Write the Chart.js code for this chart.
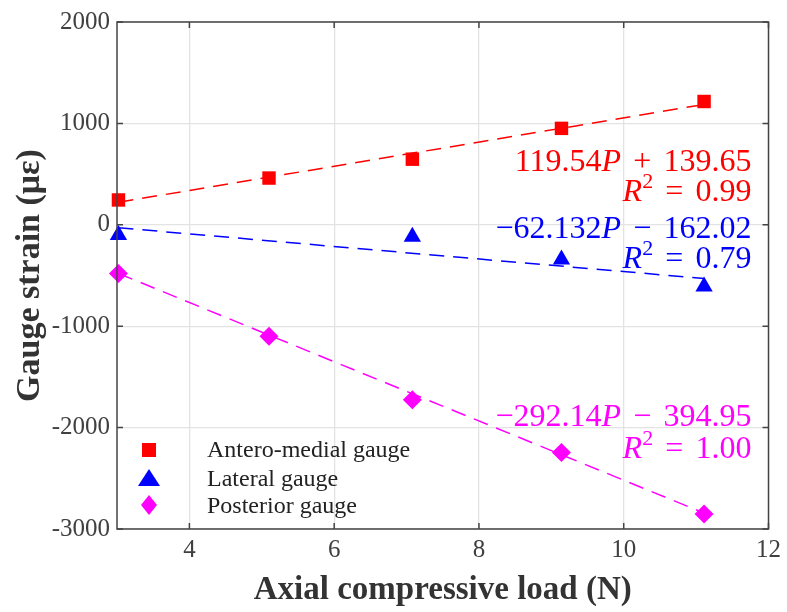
<!DOCTYPE html>
<html>
<head>
<meta charset="utf-8">
<script src="https://cdn.jsdelivr.net/npm/chart.js"></script>
<style>
  html, body { margin: 0; padding: 0; background: #fff; }
  #wrap { width: 787px; height: 612px; }
</style>
</head>
<body>
<div id="wrap"><canvas id="chart" width="787" height="612"></canvas></div>
<script>
// load values (N) and measured strain
var loads = [3.02, 5.1, 7.08, 9.14, 11.11];
var anteroMedial = [245, 461, 647, 951, 1216];
var lateral = [-100, -118, -343, -608];
var lateralLoads = [3.02, 7.08, 9.14, 11.11];
var posterior = [-480, -1098, -1725, -2245, -2853];

// fitted lines, end points
var fitLoads = [3.02, 11.11];
var anteroFit = [222, 1187];
var lateralFit = [-29, -530];
var posteriorFit = [-480, -2843];

var xTicks = [4, 6, 8, 10, 12];
var yTicks = [-3000, -2000, -1000, 0, 1000, 2000];

var RED = '#ff0000', BLUE = '#0000ff', MAG = '#ff00ff';
var SERIF = '"Liberation Serif", "Times New Roman", serif';

function pts(xs, ys) {
  return xs.map(function (x, i) { return { x: x, y: ys[i] }; });
}

// box + inward ticks like matlab
var framePlugin = {
  id: 'frame',
  afterDraw: function (chart) {
    var ctx = chart.ctx, a = chart.chartArea;
    var xs = chart.scales.x, ys = chart.scales.y;
    ctx.save();
    ctx.strokeStyle = '#444';
    ctx.lineWidth = 1.5;
    ctx.strokeRect(a.left, a.top, a.right - a.left, a.bottom - a.top);
    ctx.beginPath();
    xTicks.forEach(function (v) {
      var px = xs.getPixelForValue(v);
      ctx.moveTo(px, a.bottom); ctx.lineTo(px, a.bottom - 6);
      ctx.moveTo(px, a.top); ctx.lineTo(px, a.top + 6);
    });
    yTicks.forEach(function (v) {
      var py = ys.getPixelForValue(v);
      ctx.moveTo(a.left, py); ctx.lineTo(a.left + 6, py);
      ctx.moveTo(a.right, py); ctx.lineTo(a.right - 6, py);
    });
    ctx.stroke();
    ctx.restore();
  }
};

// draws a line made of [text, style] pieces, right aligned; 'gap' = space in em
function richRight(ctx, parts, xRight, y, size, color) {
  function fontOf(p) {
    if (p[1] === 'i') return 'italic ' + size + 'px ' + SERIF;
    if (p[1] === 'sup') return Math.round(size * 0.68) + 'px ' + SERIF;
    return size + 'px ' + SERIF;
  }
  function widthOf(p) {
    if (p[1] === 'gap') return p[0] * size;
    ctx.font = fontOf(p);
    return ctx.measureText(p[0]).width;
  }
  var total = 0;
  parts.forEach(function (p) { total += widthOf(p); });
  var x = xRight - total;
  ctx.fillStyle = color;
  ctx.textAlign = 'left';
  ctx.textBaseline = 'alphabetic';
  parts.forEach(function (p) {
    var w = widthOf(p);
    if (p[1] !== 'gap') {
      ctx.font = fontOf(p);
      var dy = p[1] === 'sup' ? -size * 0.4 : 0;
      ctx.fillText(p[0], x, y + dy);
    }
    x += w;
  });
}

var notePlugin = {
  id: 'notes',
  afterDraw: function (chart) {
    var ctx = chart.ctx;
    var xr = chart.chartArea.right - 17;
    var fs = 32, g = 0.38;
    ctx.save();
    richRight(ctx, [['119.54', ''], ['P', 'i'], [g, 'gap'], ['+', ''], [g, 'gap'], ['139.65', '']], xr, 171, fs, RED);
    richRight(ctx, [['R', 'i'], ['2', 'sup'], [g, 'gap'], ['=', ''], [g, 'gap'], ['0.99', '']], xr, 201, fs, RED);
    richRight(ctx, [['\u221262.132', ''], ['P', 'i'], [g, 'gap'], ['\u2212', ''], [g, 'gap'], ['162.02', '']], xr, 238, fs, BLUE);
    richRight(ctx, [['R', 'i'], ['2', 'sup'], [g, 'gap'], ['=', ''], [g, 'gap'], ['0.79', '']], xr, 268, fs, BLUE);
    richRight(ctx, [['\u2212292.14', ''], ['P', 'i'], [g, 'gap'], ['\u2212', ''], [g, 'gap'], ['394.95', '']], xr, 426, fs, MAG);
    richRight(ctx, [['R', 'i'], ['2', 'sup'], [g, 'gap'], ['=', ''], [g, 'gap'], ['1.00', '']], xr, 458, fs, MAG);
    ctx.restore();
  }
};

var legendPlugin = {
  id: 'inlegend',
  afterDraw: function (chart) {
    var ctx = chart.ctx;
    var items = [
      ['Antero-medial gauge', 'sq', RED, 450, 457],
      ['Lateral gauge', 'tri', BLUE, 478, 486],
      ['Posterior gauge', 'dia', MAG, 505, 513]
    ];
    ctx.save();
    items.forEach(function (it) {
      var cx = 149, cy = it[3];
      ctx.fillStyle = it[2];
      ctx.beginPath();
      if (it[1] === 'sq') {
        ctx.rect(cx - 7, cy - 7, 14, 14);
      } else if (it[1] === 'tri') {
        ctx.moveTo(cx, cy - 9); ctx.lineTo(cx + 11, cy + 8); ctx.lineTo(cx - 11, cy + 8);
      } else {
        ctx.moveTo(cx, cy - 10); ctx.lineTo(cx + 8, cy); ctx.lineTo(cx, cy + 10); ctx.lineTo(cx - 8, cy);
      }
      ctx.closePath();
      ctx.fill();
      ctx.fillStyle = '#222';
      ctx.font = '24px ' + SERIF;
      ctx.textAlign = 'left';
      ctx.textBaseline = 'alphabetic';
      ctx.fillText(it[0], 207, it[4]);
    });
    ctx.restore();
  }
};

var fitStyle = { type: 'line', showLine: true, pointRadius: 0, borderWidth: 1.5, borderDash: [15, 9], fill: false, order: 2 };

var chart = new Chart(document.getElementById('chart'), {
  type: 'scatter',
  data: {
    datasets: [
      Object.assign({ label: 'Antero-medial fit', data: pts(fitLoads, anteroFit), borderColor: RED }, fitStyle),
      Object.assign({ label: 'Lateral fit', data: pts(fitLoads, lateralFit), borderColor: BLUE }, fitStyle),
      Object.assign({ label: 'Posterior fit', data: pts(fitLoads, posteriorFit), borderColor: MAG }, fitStyle),
      { label: 'Antero-medial gauge', data: pts(loads, anteroMedial), pointStyle: 'rect', pointRadius: 9.5,
        backgroundColor: RED, borderColor: RED, borderWidth: 0, order: 1, clip: false },
      { label: 'Lateral gauge', data: pts(lateralLoads, lateral), pointStyle: 'triangle', pointRadius: 10,
        backgroundColor: BLUE, borderColor: BLUE, borderWidth: 0, order: 1, clip: false },
      { label: 'Posterior gauge', data: pts(loads, posterior), pointStyle: 'rectRot', pointRadius: 9.5,
        backgroundColor: MAG, borderColor: MAG, borderWidth: 0, order: 1, clip: false }
    ]
  },
  options: {
    responsive: false,
    animation: false,
    layout: { padding: { top: 19, right: 15, left: 0, bottom: 0 } },
    plugins: { legend: { display: false }, tooltip: { enabled: false } },
    scales: {
      x: {
        type: 'linear', min: 3, max: 12,
        afterBuildTicks: function (s) { s.ticks = xTicks.map(function (v) { return { value: v }; }); },
        afterFit: function (s) { s.height = 83; },
        grid: { color: '#e3e3e3', lineWidth: 1.3, drawTicks: false },
        border: { display: false },
        ticks: { color: '#404040', padding: 6, font: { family: SERIF, size: 25 }, maxRotation: 0,
          callback: function (v) { return String(v); } },
        title: { display: true, text: 'Axial compressive load (N)', color: '#333',
          font: { family: SERIF, size: 33, weight: 'bold' }, padding: { top: 0, bottom: 2 } }
      },
      y: {
        min: -3000, max: 2000,
        afterBuildTicks: function (s) { s.ticks = yTicks.map(function (v) { return { value: v }; }); },
        afterFit: function (s) { s.width = 117; },
        grid: { color: '#e3e3e3', lineWidth: 1.3, drawTicks: false },
        border: { display: false },
        ticks: { color: '#404040', padding: 7, font: { family: SERIF, size: 25 },
          callback: function (v) { return String(v); } },
        title: { display: true, text: 'Gauge strain (\u03bc\u03b5)', color: '#333',
          font: { family: SERIF, size: 34, weight: 'bold' }, padding: { top: 10, bottom: 0 } }
      }
    }
  },
  plugins: [framePlugin, notePlugin, legendPlugin]
});
</script>
</body>
</html>
